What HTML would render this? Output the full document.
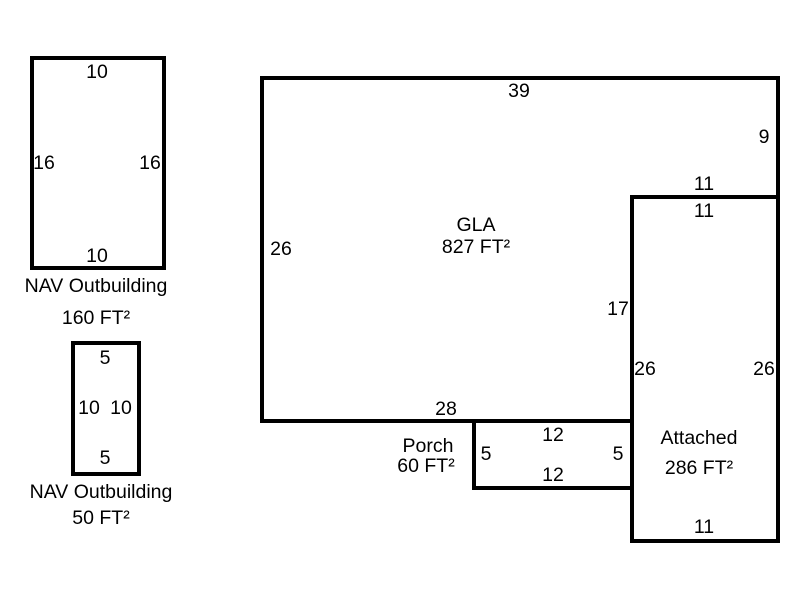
<!DOCTYPE html>
<html><head><style>body{margin:0;background:#fff}</style></head><body>
<svg width="800" height="600" xmlns="http://www.w3.org/2000/svg" font-family="Liberation Sans, Arial, sans-serif" font-size="19.5" fill="#000">
<g fill="none" stroke="#000" stroke-width="4">
<rect x="32" y="58" width="132" height="210"/>
<rect x="73" y="343" width="66" height="131"/>
<polyline points="632,421 262,421 262,78 778,78 778,197 632,197 632,421"/>
<rect x="632" y="197" width="146" height="344"/>
<polyline points="474,421 474,488 632,488"/>
</g>
<g text-anchor="middle" fill="#000">
<text x="97" y="78">10</text>
<text x="44" y="169">16</text>
<text x="150" y="169">16</text>
<text x="97" y="262">10</text>
<text x="96" y="292">NAV Outbuilding</text>
<text x="96" y="324">160 FT²</text>
<text x="105" y="364">5</text>
<text x="89" y="414">10</text>
<text x="121" y="414">10</text>
<text x="105" y="464">5</text>
<text x="101" y="498">NAV Outbuilding</text>
<text x="101" y="524">50 FT²</text>
<text x="519" y="97">39</text>
<text x="764" y="143">9</text>
<text x="704" y="190">11</text>
<text x="704" y="217">11</text>
<text x="476" y="231">GLA</text>
<text x="476" y="253">827 FT²</text>
<text x="281" y="255">26</text>
<text x="618" y="315">17</text>
<text x="645" y="375">26</text>
<text x="764" y="375">26</text>
<text x="446" y="415">28</text>
<text x="428" y="452">Porch</text>
<text x="426" y="472">60 FT²</text>
<text x="553" y="441">12</text>
<text x="553" y="481">12</text>
<text x="486" y="460">5</text>
<text x="618" y="460">5</text>
<text x="699" y="444">Attached</text>
<text x="699" y="474">286 FT²</text>
<text x="704" y="533">11</text>
</g>
</svg>
</body></html>
